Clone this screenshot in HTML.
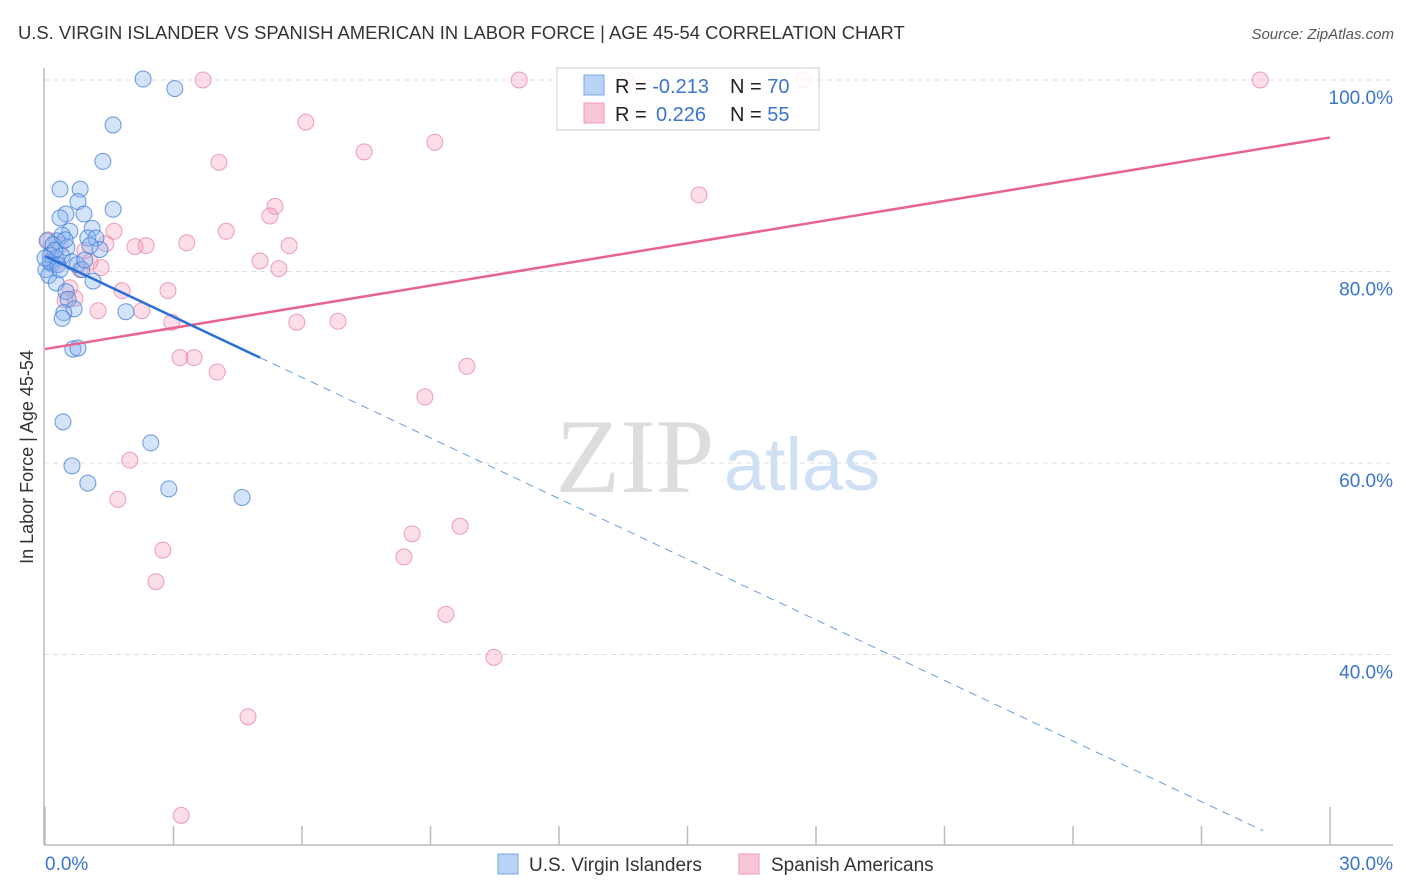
<!DOCTYPE html>
<html><head><meta charset="utf-8"><style>
body{margin:0;background:#fff;font-family:"Liberation Sans",sans-serif}
svg{display:block}
</style></head><body>
<svg id="c" width="1406" height="892" xmlns="http://www.w3.org/2000/svg">
<text x="18" y="39" font-size="18.4" fill="#333">U.S. VIRGIN ISLANDER VS SPANISH AMERICAN IN LABOR FORCE | AGE 45-54 CORRELATION CHART</text>
<text x="1394" y="39" font-size="15" fill="#555" font-style="italic" text-anchor="end">Source: ZipAtlas.com</text>
<text x="33" y="457" font-size="18" fill="#333" text-anchor="middle" transform="rotate(-90 33 457)">In Labor Force | Age 45-54</text>
<g><text x="635" y="492" font-size="106" fill="#ddd" font-family="Liberation Serif" text-anchor="middle">ZIP</text><text x="802" y="490" font-size="74" fill="#cfe0f5" text-anchor="middle">atlas</text></g>
<g id="grid"></g><g id="axes"></g><g id="pts"></g><g id="lines"></g>
<g>
<rect x="557" y="68" width="262" height="62" fill="rgba(255,255,255,0.85)" stroke="#ddd" stroke-width="1.5"/>
<rect x="584" y="75" width="20" height="20" fill="#b8d3f5" stroke="#7aa7e6"/>
<rect x="584" y="103" width="20" height="20" fill="#f9c6d5" stroke="#ef9ab3"/>
<text x="615" y="93" font-size="20" fill="#222">R = <tspan fill="#3a74d0">-0.213</tspan><tspan x="730">N = </tspan><tspan fill="#3a74d0">70</tspan></text>
<text x="615" y="121" font-size="20" fill="#222">R = <tspan fill="#3a74d0" x="656">0.226</tspan><tspan x="730">N = </tspan><tspan fill="#3a74d0">55</tspan></text>
</g>
<g>
<rect x="498" y="854" width="20" height="20" fill="#b8d3f5" stroke="#7aa7e6"/>
<text x="529" y="871" font-size="19" fill="#333">U.S. Virgin Islanders</text>
<rect x="739" y="854" width="20" height="20" fill="#f9c6d5" stroke="#ef9ab3"/>
<text x="771" y="871" font-size="19" fill="#333">Spanish Americans</text>
</g>
</svg>
<script>
const yTicks=[40,60,80,100];
const yTickLabels=["40.0%","60.0%","80.0%","100.0%"];
const xTicks=[0,3,6,9,12,15,18,21,24,27,30];
const blueX=[2.29,3.03,1.59,1.35,0.35,0.82,0.77,0.49,0.91,0.35,1.59,0.58,0.40,1.10,0.28,0.05,0.19,0.51,1.00,1.19,1.28,1.05,0.12,0.26,0.40,0.63,0.75,0.86,0.16,0.02,0.09,0.26,0.49,1.12,0.54,0.68,0.44,0.40,1.89,0.65,0.77,0.42,2.47,0.63,1.00,2.89,4.60,0.12,0.23,0.30,0.0,0.47,0.93,0.35];
const blueY=[100.1,99.1,95.3,91.5,88.6,88.6,87.3,86.0,86.0,85.6,86.5,84.2,83.8,84.5,83.2,83.2,82.8,82.5,83.5,83.5,82.3,82.7,81.7,81.4,81.6,81.0,80.7,80.2,80.8,80.2,79.6,78.8,77.9,79.0,77.1,76.1,75.7,75.1,75.8,71.9,72.0,64.3,62.1,59.7,57.9,57.3,56.4,81.0,82.2,80.7,81.4,83.3,81.2,80.2];
const pinkX=[3.69,11.07,13.56,17.70,28.37,6.09,7.45,9.10,4.06,15.27,5.37,5.25,4.23,3.31,2.36,2.10,5.70,1.42,1.61,5.02,5.46,1.31,1.05,1.80,2.87,0.58,0.70,1.24,2.26,2.96,5.88,6.84,3.15,3.48,4.02,9.85,8.87,1.98,1.70,8.57,9.69,8.38,2.75,2.59,9.36,10.48,4.74,3.18,0.16,0.35,0.23,0.82,0.47,0.07,0.93];
const pinkY=[100,100,100,100,100,95.6,92.5,93.5,91.4,88.0,86.8,85.8,84.2,83.0,82.7,82.6,82.7,82.9,84.2,81.1,80.3,80.4,81.0,78.0,78.0,78.3,77.2,75.9,75.9,74.7,74.7,74.8,71.0,71.0,69.5,70.1,66.9,60.3,56.2,52.6,53.4,50.2,50.9,47.6,44.2,39.7,33.5,23.2,81.7,82.8,80.7,80.2,77.0,83.3,82.2];
const blueTrend=[81.6,-2.11];
const pinkTrend=[71.9,0.7367];
const NS="http://www.w3.org/2000/svg";
const X=v=>45+v*1285/30, Y=v=>80+(100-v)*9.575;
function mk(p,t,a){const e=document.createElementNS(NS,t);for(const k in a)e.setAttribute(k,a[k]);document.getElementById(p).appendChild(e);return e;}
yTicks.forEach((t,i)=>{
 const l=mk('grid','line',{x1:44,x2:1393,y1:Y(t),y2:Y(t),stroke:'#ddd','stroke-dasharray':'5,4'});
 
 
 const tx=mk('grid','text',{x:1393,y:Y(t)+24,'font-size':19,fill:'#3a74d0','text-anchor':'end'});
 tx.textContent=yTickLabels[i];
 
 
});
mk('axes','line',{x1:44,x2:44,y1:68,y2:845,stroke:'#bbb','stroke-width':1.5});
mk('axes','line',{x1:44,x2:1393,y1:845,y2:845,stroke:'#bbb','stroke-width':1.5});
xTicks.forEach(t=>{
 const tk=mk('axes','line',{x1:X(t),x2:X(t),y1:(t===0||t===30)?807:826,y2:845,stroke:'#bbb','stroke-width':1.5});
 
 
});
const xl0=mk('axes','text',{x:45,y:870,'font-size':19,fill:'#3a74d0'});xl0.textContent='0.0%';


const xl1=mk('axes','text',{x:1393,y:870,'font-size':19,fill:'#3a74d0','text-anchor':'end'});xl1.textContent='30.0%';


pinkX.forEach((x,i)=>{const c=mk('pts','circle',{cx:X(x),cy:Y(pinkY[i]),r:8,fill:'rgba(244,160,186,0.35)',stroke:'rgba(232,120,155,0.7)','stroke-width':1});
 
 });
blueX.forEach((x,i)=>{const c=mk('pts','circle',{cx:X(x),cy:Y(blueY[i]),r:8,fill:'rgba(140,185,240,0.38)',stroke:'rgba(60,120,215,0.75)','stroke-width':1});
 
 });
const bt=x=>blueTrend[0]+blueTrend[1]*x, pt=x=>pinkTrend[0]+pinkTrend[1]*x;
const p=mk('lines','line',{x1:X(0),y1:Y(pt(0)),x2:X(30),y2:Y(pt(30)),stroke:'#e8648f','stroke-width':2.5});


const b1=mk('lines','line',{x1:X(0),y1:Y(bt(0)),x2:X(5.02),y2:Y(bt(5.02)),stroke:'#2a6fd6','stroke-width':2.5});


const b2=mk('lines','line',{x1:X(5.02),y1:Y(bt(5.02)),x2:X(28.44),y2:Y(bt(28.44)),stroke:'#6a9be0','stroke-width':1,'stroke-dasharray':'8,6'});


</script>
</body></html>
